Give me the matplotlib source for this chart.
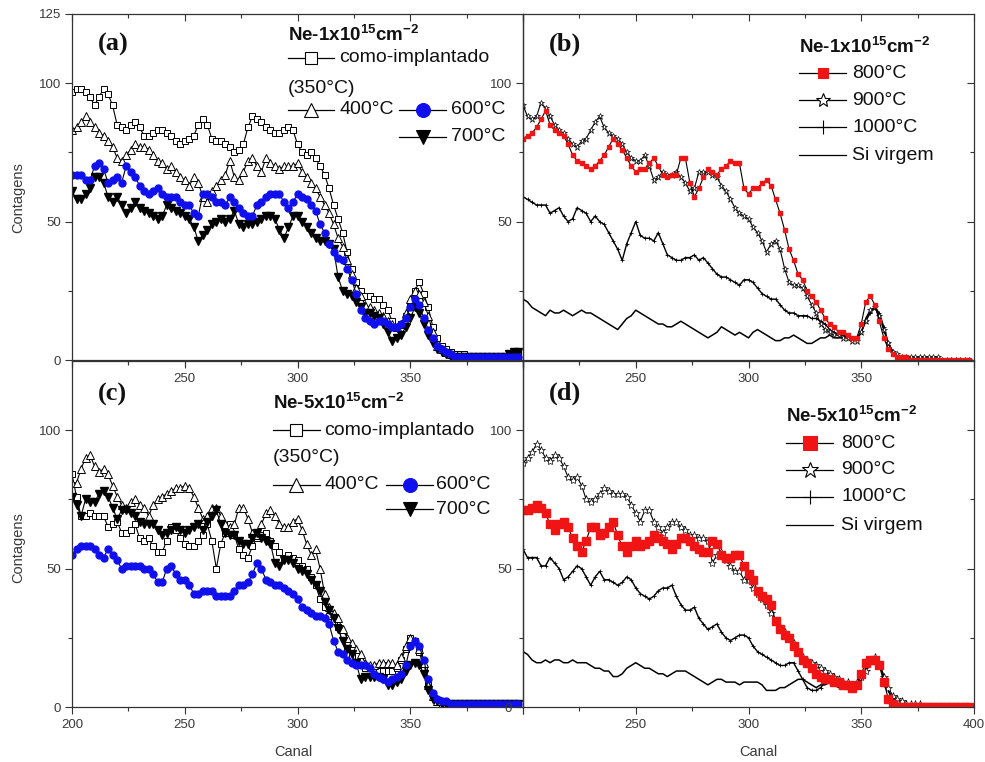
import numpy as np
import matplotlib
matplotlib.use('Agg')
import matplotlib.pyplot as plt
from matplotlib.lines import Line2D

plt.rcParams['font.family'] = ['Liberation Sans', 'DejaVu Sans']
plt.rcParams['mathtext.fontset'] = 'custom'
plt.rcParams['mathtext.rm'] = 'Liberation Sans'
plt.rcParams['mathtext.bf'] = 'Liberation Sans:bold'
plt.rcParams['mathtext.it'] = 'Liberation Sans:italic'

# ---------------- data (channel step 2, 200..398) ----------------
canal = np.arange(200, 400, 2)

# panel (a): Ne-1x10^15
como_a = [97, 98, 98, 97, 95, 92, 95, 98, 96, 92,
          85, 84, 83, 85, 86, 84, 81, 81, 82, 83,
          83, 82, 81, 79, 78, 79, 80, 81, 85, 87,
          85, 80, 79, 79, 78, 77, 75, 76, 78, 84,
          88, 87, 86, 84, 83, 82, 82, 83, 84, 83,
          78, 75, 74, 75, 73, 70, 67, 62, 56, 51,
          46, 39, 33, 28, 25, 23, 23, 22, 22, 20,
          18, 14, 12, 13, 16, 20, 25, 28, 24, 19,
          12, 8, 5, 4, 3, 2, 2, 2, 1, 1,
          1, 1, 1, 1, 1, 1, 1, 2, 2, 2]
t400_a = [83, 84, 86, 88, 86, 84, 82, 81, 79, 77,
          73, 72, 74, 76, 78, 77, 77, 76, 74, 72,
          71, 69, 70, 68, 66, 65, 63, 66, 64, 59,
          57, 61, 63, 65, 67, 72, 66, 65, 68, 72,
          73, 70, 68, 73, 71, 70, 69, 70, 70, 70,
          71, 68, 66, 64, 62, 59, 56, 53, 49, 44,
          41, 36, 31, 26, 23, 20, 19, 18, 17, 16,
          14, 13, 12, 13, 17, 22, 25, 24, 21, 16,
          10, 5, 4, 3, 2, 1, 1, 1, 1, 1,
          1, 1, 1, 1, 1, 1, 1, 1, 1, 1]
t600_a = [67, 67, 67, 65, 65, 70, 71, 69, 64, 65,
          66, 64, 70, 68, 66, 63, 61, 60, 61, 62,
          60, 59, 59, 59, 57, 56, 56, 53, 52, 60,
          60, 59, 57, 57, 56, 59, 57, 55, 53, 52,
          52, 56, 57, 59, 60, 60, 60, 57, 55, 57,
          60, 59, 58, 56, 54, 49, 46, 42, 39, 37,
          36, 33, 29, 24, 18, 15, 14, 13, 14, 14,
          13, 12, 12, 13, 15, 19, 22, 20, 15, 11,
          8, 5, 4, 3, 2, 1, 1, 1, 1, 1,
          1, 1, 1, 1, 1, 1, 1, 1, 1, 1]
t700_a = [61, 58, 58, 60, 62, 66, 66, 64, 59, 57,
          59, 56, 53, 55, 57, 55, 54, 53, 52, 51,
          52, 56, 55, 54, 53, 52, 51, 48, 43, 45,
          47, 49, 50, 51, 50, 51, 54, 49, 48, 49,
          49, 50, 51, 52, 52, 51, 47, 44, 48, 52,
          52, 50, 48, 46, 44, 43, 43, 42, 40, 30,
          25, 24, 23, 21, 19, 17, 17, 16, 15, 13,
          10, 7, 8, 9, 12, 15, 19, 17, 13, 9,
          6, 4, 3, 2, 1, 1, 1, 1, 1, 1,
          1, 1, 1, 1, 1, 1, 1, 2, 3, 3]

# panel (b): Ne-1x10^15
t800_b = [80, 81, 82, 84, 87, 90, 85, 83, 82, 81,
          78, 74, 72, 71, 70, 69, 70, 72, 74, 77,
          80, 78, 76, 73, 70, 68, 69, 69, 71, 73,
          70, 67, 66, 67, 67, 73, 73, 64, 59, 62,
          66, 69, 68, 67, 69, 70, 72, 71, 71, 62,
          60, 62, 62, 64, 65, 63, 58, 53, 47, 40,
          36, 31, 29, 25, 23, 21, 18, 15, 13, 12,
          10, 10, 9, 8, 8, 13, 21, 23, 20, 14,
          8, 4, 2, 1, 1, 1, 0, 0, 0, 0,
          0, 0, 0, 0, 0, 0, 0, 0, 0, 0]
t900_b = [92, 88, 87, 88, 93, 91, 88, 85, 83, 82,
          80, 78, 77, 79, 80, 83, 86, 88, 84, 82,
          81, 80, 78, 75, 73, 72, 72, 74, 70, 65,
          66, 68, 67, 67, 68, 66, 64, 61, 62, 68,
          68, 68, 67, 66, 63, 61, 58, 55, 53, 52,
          51, 48, 46, 43, 39, 42, 43, 40, 33, 28,
          27, 27, 26, 23, 20, 17, 13, 11, 10, 9,
          9, 8, 8, 7, 7, 10, 14, 18, 19, 16,
          11, 6, 3, 2, 1, 1, 1, 1, 1, 1,
          1, 1, 1, 0, 0, 0, 0, 0, 0, 0]
t1000_b = [59, 58, 57, 56, 56, 56, 53, 54, 55, 52,
           50, 51, 55, 54, 53, 50, 52, 50, 49, 46,
           43, 40, 36, 42, 46, 50, 45, 44, 44, 43,
           46, 42, 38, 37, 36, 36, 37, 37, 38, 36,
           37, 35, 33, 31, 30, 30, 29, 28, 27, 29,
           29, 28, 26, 24, 23, 22, 22, 20, 18, 17,
           17, 16, 16, 16, 15, 15, 14, 13, 11, 10,
           9, 9, 8, 8, 8, 10, 14, 17, 19, 17,
           12, 6, 3, 1, 1, 0, 0, 0, 0, 0,
           0, 0, 0, 0, 0, 0, 0, 0, 0, 0]
virgem_b = [22, 21, 19, 18, 17, 16, 18, 17, 17, 18,
            17, 16, 17, 18, 17, 17, 16, 15, 14, 13,
            12, 11, 13, 15, 16, 18, 17, 16, 15, 14,
            13, 13, 12, 12, 13, 14, 13, 12, 11, 10,
            9, 8, 9, 10, 12, 11, 10, 9, 10, 9,
            8, 10, 11, 10, 9, 8, 7, 7, 8, 8,
            9, 8, 7, 6, 6, 7, 8, 8, 9, 8,
            8, 8, 9, 8, 8, 10, 15, 18, 19, 16,
            11, 6, 3, 1, 1, 0, 0, 0, 0, 0,
            0, 0, 0, 0, 0, 0, 0, 0, 0, 0]

# panel (c): Ne-5x10^15
como_c = [84, 76, 69, 69, 70, 69, 69, 69, 65, 66,
          67, 63, 63, 64, 66, 61, 60, 61, 58, 56,
          56, 60, 65, 64, 61, 59, 58, 58, 60, 62,
          66, 60, 50, 59, 63, 66, 62, 57, 55, 54,
          58, 61, 62, 63, 60, 58, 56, 54, 55, 54,
          53, 51, 50, 47, 44, 39, 36, 33, 31, 29,
          26, 21, 18, 16, 15, 14, 14, 14, 13, 13,
          13, 13, 14, 17, 21, 25, 24, 20, 14, 8,
          4, 2, 1, 1, 1, 1, 1, 1, 1, 1,
          1, 1, 1, 1, 1, 1, 1, 1, 1, 1]
t400_c = [81, 81, 86, 90, 91, 87, 85, 86, 84, 80,
          76, 73, 72, 74, 75, 73, 72, 69, 73, 75,
          76, 77, 78, 79, 79, 80, 79, 76, 72, 68,
          69, 72, 72, 69, 66, 65, 66, 72, 72, 68,
          63, 62, 66, 70, 71, 69, 66, 65, 65, 67,
          68, 64, 59, 55, 57, 50, 41, 36, 34, 32,
          28, 25, 23, 21, 19, 16, 15, 15, 16, 16,
          16, 16, 15, 18, 22, 25, 24, 21, 16, 8,
          4, 2, 1, 1, 1, 1, 1, 1, 1, 1,
          1, 1, 1, 1, 1, 1, 1, 1, 1, 1]
t600_c = [55, 57, 58, 58, 58, 57, 55, 54, 57, 55,
          53, 50, 51, 51, 51, 51, 50, 50, 48, 45,
          45, 50, 51, 48, 46, 46, 44, 41, 41, 42,
          42, 42, 40, 40, 40, 40, 42, 44, 44, 45,
          48, 52, 50, 46, 45, 44, 44, 43, 42, 41,
          39, 36, 35, 34, 33, 33, 32, 30, 24, 20,
          19, 17, 16, 15, 15, 15, 14, 12, 11, 10,
          9, 10, 11, 12, 15, 22, 24, 22, 17, 10,
          5, 3, 2, 2, 1, 1, 1, 1, 1, 1,
          1, 1, 1, 1, 1, 1, 1, 1, 1, 1]
t700_c = [76, 73, 69, 75, 74, 74, 77, 78, 76, 72,
          68, 71, 71, 70, 69, 67, 66, 66, 66, 64,
          62, 63, 64, 65, 64, 63, 64, 65, 66, 64,
          67, 69, 71, 66, 63, 62, 62, 60, 59, 59,
          61, 63, 61, 60, 59, 52, 51, 53, 53, 52,
          50, 49, 48, 46, 44, 42, 38, 35, 32, 28,
          24, 21, 19, 16, 10, 11, 11, 11, 11, 10,
          8, 8, 9, 10, 13, 15, 16, 15, 12, 6,
          3, 2, 1, 1, 1, 1, 1, 1, 1, 1,
          1, 1, 1, 1, 1, 1, 1, 1, 1, 1]

# panel (d): Ne-5x10^15
t800_d = [71, 71, 72, 73, 72, 70, 66, 64, 66, 67,
          65, 61, 58, 56, 60, 65, 65, 62, 63, 65,
          67, 62, 58, 56, 58, 60, 58, 59, 60, 62,
          61, 60, 59, 57, 59, 61, 61, 60, 58, 57,
          56, 56, 60, 59, 55, 54, 54, 55, 55, 51,
          48, 46, 42, 40, 39, 37, 31, 28, 26, 25,
          22, 20, 17, 16, 14, 12, 11, 10, 10, 9,
          9, 8, 8, 7, 8, 12, 16, 17, 17, 15,
          9, 3, 1, 0, 0, 0, 0, 0, 0, 0,
          0, 0, 0, 0, 0, 0, 0, 0, 0, 0]
t900_d = [88, 90, 92, 95, 93, 90, 89, 91, 90, 87,
          83, 82, 83, 80, 75, 74, 75, 77, 79, 78,
          77, 77, 77, 76, 73, 70, 67, 71, 71, 67,
          65, 63, 65, 67, 67, 65, 64, 62, 62, 61,
          61, 60, 52, 55, 56, 53, 51, 49, 49, 46,
          46, 43, 41, 39, 37, 34, 31, 29, 27, 25,
          23, 20, 18, 17, 16, 15, 14, 13, 12, 11,
          10, 9, 9, 8, 9, 11, 13, 17, 18, 15,
          11, 7, 4, 3, 2, 1, 1, 1, 1, 0,
          0, 0, 0, 0, 0, 0, 0, 0, 0, 0]
t1000_d = [57, 54, 54, 54, 51, 51, 54, 52, 50, 46,
           47, 49, 51, 50, 47, 44, 47, 49, 46, 46,
           45, 44, 45, 47, 46, 43, 41, 40, 39, 40,
           42, 43, 43, 44, 40, 37, 35, 35, 36, 32,
           30, 28, 29, 30, 27, 25, 24, 25, 26, 26,
           25, 22, 20, 19, 18, 17, 16, 15, 15, 16,
           16, 13, 10, 7, 6, 6, 7, 9, 9, 9,
           8, 8, 7, 7, 8, 10, 14, 17, 18, 16,
           11, 6, 3, 1, 1, 0, 0, 0, 0, 0,
           0, 0, 0, 0, 0, 0, 0, 0, 0, 0]
virgem_d = [20, 19, 17, 16, 16, 17, 16, 17, 17, 16,
            16, 17, 16, 16, 16, 15, 14, 14, 13, 13,
            11, 11, 12, 14, 15, 16, 15, 14, 14, 13,
            12, 12, 11, 12, 13, 13, 13, 12, 11, 10,
            9, 8, 9, 10, 10, 9, 9, 9, 8, 9,
            9, 9, 9, 8, 6, 6, 6, 7, 7, 8,
            9, 10, 10, 9, 8, 7, 8, 8, 9, 8,
            7, 7, 8, 8, 8, 10, 13, 16, 18, 16,
            11, 6, 2, 1, 0, 0, 0, 0, 0, 0,
            0, 0, 0, 0, 0, 0, 0, 0, 0, 0]

for arr in [como_a, t400_a, t600_a, t700_a, t800_b, t900_b, t1000_b, virgem_b,
            como_c, t400_c, t600_c, t700_c, t800_d, t900_d, t1000_d, virgem_d]:
    assert len(arr) == len(canal), len(arr)

panel_letters = ['(a)', '(b)', '(c)', '(d)']
dose_titles = ['Ne-1x10$^{\\mathbf{15}}$cm$^{\\mathbf{-2}}$',
               'Ne-5x10$^{\\mathbf{15}}$cm$^{\\mathbf{-2}}$']

BLUE = '#1010ee'
RED = '#f01414'
GRAY = '#3a3a3a'

# styles
S_COMO = dict(marker='s', mfc='white', mec='k', color='k')
S_400 = dict(marker='^', mfc='white', mec='k', color='k')
S_600 = dict(marker='o', mfc=BLUE, mec=BLUE, color='k')
S_700 = dict(marker='v', mfc='k', mec='k', color='k')
S_800 = dict(marker='s', mfc=RED, mec=RED, color='k')
S_900 = dict(marker='*', mfc='white', mec='k', color='k')
S_1000 = dict(marker='+', mfc='k', mec='k', color='k')
S_VIR = dict(marker=None, color='k')

W, H = 985, 762
fig = plt.figure(figsize=(W / 100, H / 100), dpi=100)
fig.patch.set_facecolor('white')

def fr(x0, y0, x1, y1):
    return [x0 / W, 1 - y1 / H, (x1 - x0) / W, (y1 - y0) / H]

ax_a = fig.add_axes(fr(72, 14, 523, 360))
ax_b = fig.add_axes(fr(523, 14, 974, 360))
ax_c = fig.add_axes(fr(72, 361, 523, 707))
ax_d = fig.add_axes(fr(523, 361, 974, 707))

def setup(ax, ylabels, xlabels):
    ax.set_facecolor('none')
    ax.set_xlim(200, 400)
    ax.set_ylim(0, 125)
    for s in ax.spines.values():
        s.set_color('#333333')
        s.set_linewidth(0.9)
    yt = [t for t in [0, 50, 100, 125] if t in ylabels or t != 125]
    ax.set_yticks(yt, [str(t) if t in ylabels else '' for t in yt])
    ax.set_yticks([25, 75], minor=True)
    xt = [200, 250, 300, 350, 400]
    ax.set_xticks(xt, [str(t) if t in xlabels else '' for t in xt])
    ax.set_xticks([225, 275, 325, 375], minor=True)
    ax.tick_params(which='both', direction='out', colors='#333333',
                   labelcolor=GRAY, labelsize=9.5, width=0.8,
                   top=False, right=False)
    ax.tick_params(which='major', length=5)
    ax.tick_params(which='minor', length=3)
    ax.tick_params(axis='x', pad=4)
    ax.tick_params(axis='y', pad=3)
    st = ax.secondary_xaxis('top')
    st.set_xticks(xt)
    st.set_xticks([225, 275, 325, 375], minor=True)
    st.tick_params(which='both', direction='in', labeltop=False, colors='#333333', width=0.8)
    st.tick_params(which='major', length=5)
    st.tick_params(which='minor', length=3)
    st.spines['top'].set_visible(False)

setup(ax_a, [0, 50, 100, 125], [250, 300, 350])
setup(ax_b, [50, 100], [250, 300, 350])
setup(ax_c, [0, 50, 100], [200, 250, 300, 350])
setup(ax_d, [0, 50, 100], [250, 300, 350, 400])

for ax in (ax_b, ax_d):
    sr = ax.secondary_yaxis('right')
    sr.set_yticks([0, 50, 100])
    sr.set_yticks([25, 75], minor=True)
    sr.tick_params(which='both', direction='in', labelright=False, colors='#333333', width=0.8)
    sr.tick_params(which='major', length=5)
    sr.tick_params(which='minor', length=3)
    sr.spines['right'].set_visible(False)

# ---------------- plot series ----------------
LW = 0.8
ax_a.plot(canal, como_a, lw=LW, ms=5, mew=0.7, **S_COMO)
ax_a.plot(canal, t400_a, lw=LW, ms=6, mew=0.7, **S_400)
ax_a.plot(canal, t700_a, lw=LW, ms=5.5, **S_700)
ax_a.plot(canal, t600_a, lw=LW, ms=5, **S_600)

ax_b.plot(canal, virgem_b, lw=1.1, **S_VIR)
ax_b.plot(canal, t1000_b, lw=1.0, ms=3.5, mew=0.6, **S_1000)
ax_b.plot(canal, t900_b, lw=LW, ms=5, mew=0.5, **S_900)
ax_b.plot(canal, t800_b, lw=LW, ms=3.5, **S_800)

ax_c.plot(canal, como_c, lw=LW, ms=5, mew=0.7, **S_COMO)
ax_c.plot(canal, t400_c, lw=LW, ms=6, mew=0.7, **S_400)
ax_c.plot(canal, t700_c, lw=LW, ms=5.5, **S_700)
ax_c.plot(canal, t600_c, lw=LW, ms=5, **S_600)

ax_d.plot(canal, virgem_d, lw=1.1, **S_VIR)
ax_d.plot(canal, t1000_d, lw=1.0, ms=3.5, mew=0.6, **S_1000)
ax_d.plot(canal, t900_d, lw=LW, ms=6, mew=0.5, **S_900)
ax_d.plot(canal, t800_d, lw=LW, ms=5.5, **S_800)

# ---------------- panel letters ----------------
for ax, lab, y in zip((ax_a, ax_b, ax_c, ax_d), panel_letters, (114, 114, 113, 113.5)):
    ax.text(211.5, y, lab, family=['Liberation Serif', 'DejaVu Serif'], fontweight='bold',
            fontsize=19, ha='left', va='center', color='#111111')

# ---------------- hand-built legends ----------------
LEG_FS = 14

def key(ax, x0, x1, y, style, ms, mew=0.8):
    ax.add_line(Line2D([x0, x1], [y, y], transform=ax.transAxes, color='k', lw=0.9,
                       clip_on=False))
    if style.get('marker'):
        st = dict(style)
        st.pop('color', None)
        ax.add_line(Line2D([(x0 + x1) / 2], [y], transform=ax.transAxes, linestyle='none',
                           ms=ms, mew=mew, clip_on=False, **st))

def legend_left(ax, title, x0, ytitle, yc, y350, y4, y7, xk2, xt1, xt2):
    ax.text(x0, ytitle, title, transform=ax.transAxes, fontsize=13.5, fontweight='bold',
            ha='left', va='baseline', color='#111111')
    key(ax, x0, x0 + 0.104, yc, S_COMO, 8)
    ax.text(xt1, yc, 'como-implantado', transform=ax.transAxes, fontsize=LEG_FS,
            ha='left', va='center', color='#111111')
    ax.text(x0, y350, '(350°C)', transform=ax.transAxes, fontsize=LEG_FS,
            ha='left', va='center', color='#111111')
    key(ax, x0, x0 + 0.104, y4, S_400, 10)
    ax.text(xt1, y4, '400°C', transform=ax.transAxes, fontsize=LEG_FS,
            ha='left', va='center', color='#111111')
    key(ax, xk2, xk2 + 0.104, y4, S_600, 10)
    ax.text(xt2, y4, '600°C', transform=ax.transAxes, fontsize=LEG_FS,
            ha='left', va='center', color='#111111')
    key(ax, xk2, xk2 + 0.104, y7, S_700, 10)
    ax.text(xt2, y7, '700°C', transform=ax.transAxes, fontsize=LEG_FS,
            ha='left', va='center', color='#111111')

def legend_right(ax, title, x0, ytitle, ys, xt, ms800, ms900):
    ax.text(x0, ytitle, title, transform=ax.transAxes, fontsize=13.5, fontweight='bold',
            ha='left', va='baseline', color='#111111')
    items = [(S_800, '800°C', ms800), (S_900, '900°C', ms900),
             (S_1000, '1000°C', 10), (S_VIR, 'Si virgem', 0)]
    for (st, lab, ms), y in zip(items, ys):
        key(ax, x0, x0 + 0.104, y, st, ms, mew=0.8)
        ax.text(xt, y, lab, transform=ax.transAxes, fontsize=LEG_FS,
                ha='left', va='center', color='#111111')

legend_left(ax_a, dose_titles[0], 0.478, 0.923, 0.873, 0.786, 0.723, 0.645,
            0.726, 0.593, 0.841)
legend_left(ax_c, dose_titles[1], 0.445, 0.861, 0.800, 0.720, 0.642, 0.572,
            0.697, 0.560, 0.807)
legend_right(ax_b, dose_titles[0], 0.613, 0.887, [0.829, 0.751, 0.673, 0.592], 0.730, 7, 10)
legend_right(ax_d, dose_titles[1], 0.584, 0.824, [0.763, 0.685, 0.607, 0.526], 0.706, 10, 12)

# ---------------- axis titles ----------------
for y in (198, 548):
    fig.text(18 / W, 1 - y / H, 'Contagens', rotation=90, ha='center', va='center',
             fontsize=10.5, color=GRAY)
for x in (293, 758):
    fig.text(x / W, 1 - 752 / H, 'Canal', ha='center', va='center',
             fontsize=10.5, color=GRAY)

fig.savefig('out.png', dpi=100, facecolor='white')
